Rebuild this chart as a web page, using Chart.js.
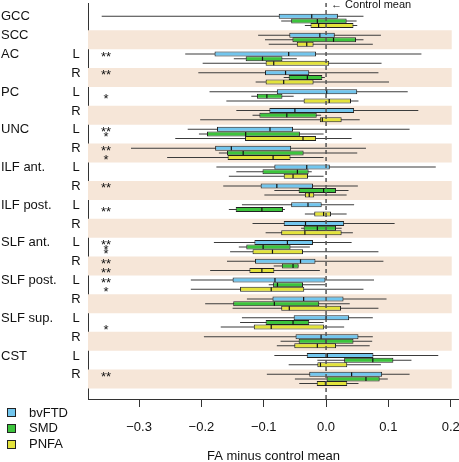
<!DOCTYPE html>
<html>
<head>
<meta charset="utf-8">
<script src="https://cdn.jsdelivr.net/npm/chart.js@4.4.1/dist/chart.umd.min.js"></script>
<style>
  html, body { margin: 0; padding: 0; background: #fff; }
</style>
</head>
<body>
<canvas id="chart" width="459" height="462"></canvas>
<script>
// Row labels (tract + hemisphere)
const regionLabels = ['GCC', 'SCC', 'AC', '', 'PC', '', 'UNC', '', 'ILF ant.', '', 'ILF post.', '',
                      'SLF ant.', '', 'SLF post.', '', 'SLF sup.', '', 'CST', ''];
const sideLabels = ['', '', 'L', 'R', 'L', 'R', 'L', 'R', 'L', 'R', 'L', 'R',
                    'L', 'R', 'L', 'R', 'L', 'R', 'L', 'R'];

const groups = ['bvFTD', 'SMD', 'PNFA'];
const groupColors = ['#72c6ee', '#3cc43c', '#e3e33b'];

const xTicks = [-0.3, -0.2, -0.1, 0.0, 0.1, 0.2];

// bvFTD box stats: whisker low, Q1, median, Q3, whisker high
const bvftdLow  = [-0.360, -0.109, -0.226, -0.205, -0.187, -0.144, -0.222, -0.313, -0.176, -0.165, -0.135, -0.118, -0.180, -0.159, -0.217, -0.127, -0.135, -0.196, -0.083, -0.095];
const bvftdQ1   = [-0.076, -0.059, -0.179, -0.098, -0.079, -0.091, -0.175, -0.178, -0.083, -0.105, -0.056, -0.068, -0.115, -0.114, -0.150, -0.086, -0.052, -0.049, -0.031, -0.027];
const bvftdMed  = [-0.023, -0.010, -0.060, -0.065, 0.001, -0.050, -0.090, -0.152, -0.031, -0.079, -0.029, -0.033, -0.062, -0.041, -0.082, -0.036, 0.000, -0.008, 0.002, 0.041];
const bvftdQ3   = [0.019, 0.014, -0.016, -0.027, 0.050, 0.045, -0.053, -0.056, 0.006, -0.021, -0.007, 0.029, -0.021, -0.017, -0.001, 0.028, 0.037, 0.052, 0.076, 0.090];
const bvftdHigh = [0.060, 0.088, 0.153, 0.084, 0.131, 0.148, 0.134, 0.064, 0.176, 0.051, 0.045, 0.110, 0.041, 0.092, 0.077, 0.097, 0.075, 0.075, 0.180, 0.134];

// SMD
const smdLow  = [-0.072, -0.098, -0.148, -0.068, -0.120, -0.118, -0.204, -0.172, -0.144, -0.083, -0.156, -0.040, -0.140, -0.084, -0.092, -0.194, -0.138, -0.073, -0.014, -0.050];
const smdQ1   = [-0.056, -0.054, -0.129, -0.060, -0.111, -0.107, -0.191, -0.159, -0.102, -0.044, -0.145, -0.036, -0.128, -0.071, -0.085, -0.149, -0.097, -0.044, 0.029, 0.000];
const smdMed  = [-0.014, 0.012, -0.102, -0.030, -0.095, -0.063, -0.129, -0.133, -0.046, -0.004, -0.103, -0.014, -0.101, -0.053, -0.078, -0.083, -0.053, 0.000, 0.075, 0.064];
const smdQ3   = [0.033, 0.048, -0.070, -0.006, -0.070, -0.015, -0.042, -0.036, -0.028, 0.016, -0.069, 0.016, -0.057, -0.044, -0.037, -0.011, -0.027, 0.044, 0.108, 0.086];
const smdHigh = [0.049, 0.060, -0.047, -0.002, -0.052, -0.008, -0.004, 0.050, -0.023, 0.036, -0.066, 0.025, -0.026, -0.044, -0.001, 0.038, -0.004, 0.074, 0.137, 0.099];

// PNFA
const pnfaLow  = [-0.034, -0.092, -0.198, -0.113, -0.160, -0.202, -0.242, -0.255, -0.156, -0.099, -0.034, -0.097, -0.154, -0.186, -0.217, -0.150, -0.169, -0.079, -0.060, -0.043];
const pnfaQ1   = [-0.025, -0.047, -0.097, -0.097, -0.036, -0.010, -0.130, -0.158, -0.068, -0.034, -0.019, -0.072, -0.118, -0.123, -0.138, -0.072, -0.116, -0.051, -0.014, -0.015];
const pnfaMed  = [-0.012, -0.031, -0.084, -0.068, 0.005, -0.006, -0.037, -0.085, -0.053, -0.027, -0.004, -0.034, -0.086, -0.103, -0.088, -0.059, -0.088, -0.014, -0.009, -0.001];
const pnfaQ3   = [0.044, -0.020, 0.005, -0.020, 0.040, 0.025, -0.016, -0.057, -0.029, -0.019, 0.008, 0.025, -0.037, -0.083, -0.035, 0.024, -0.003, 0.016, 0.034, 0.034];
const pnfaHigh = [0.050, 0.075, 0.089, 0.101, 0.052, 0.054, 0.041, -0.004, -0.004, 0.033, 0.033, 0.043, 0.084, -0.010, 0.060, 0.084, 0.029, 0.070, 0.088, 0.052];

// significance marks per row
const bvftdStars = ['', '', '**', '**', '', '', '**', '**', '', '**', '', '', '**', '**', '**', '', '', '', '', '**'];
const smdStars   = ['', '', '', '', '*', '', '*', '', '', '', '**', '', '*', '', '', '', '', '', '', ''];
const pnfaStars  = ['', '', '', '', '', '', '', '*', '', '', '', '', '*', '**', '*', '', '*', '', '', ''];

// axis ranges and layout constants
const xMin = -0.382, xMax = 0.2133, stripeEnd = 0.2016, starX = -0.353;
const yMin = -0.955, yMax = 20.06;
const groupOffsets = [-0.25, 0, 0.24];
const fontFamily = '"Liberation Sans", Arial, Helvetica, sans-serif';

const rows = regionLabels.map((_, i) => i);
const series = [
    { low: bvftdLow, q1: bvftdQ1, med: bvftdMed, q3: bvftdQ3, high: bvftdHigh, stars: bvftdStars },
    { low: smdLow, q1: smdQ1, med: smdMed, q3: smdQ3, high: smdHigh, stars: smdStars },
    { low: pnfaLow, q1: pnfaQ1, med: pnfaMed, q3: pnfaQ3, high: pnfaHigh, stars: pnfaStars }
];

const datasets = [];

// alternating background bands
datasets.push({
    type: 'bar', indexAxis: 'y', grouped: false, order: 10,
    data: rows.filter(i => i % 2 === 1).map(i => ({ x: [xMin, stripeEnd], y: i })),
    backgroundColor: '#f6e6d8', borderWidth: 0, barThickness: 19, inflateAmount: 0
});

series.forEach((s, g) => {
    const pos = rows.map(i => i + groupOffsets[g]);
    // whiskers
    datasets.push({
        type: 'bar', indexAxis: 'y', grouped: false, order: 4,
        data: rows.map(i => ({ x: [s.low[i], s.high[i]], y: pos[i] })),
        backgroundColor: '#3c3c3c', borderWidth: 0, barThickness: 1, inflateAmount: 0
    });
    // boxes
    datasets.push({
        type: 'bar', indexAxis: 'y', grouped: false, order: 3,
        data: rows.map(i => ({ x: [s.q1[i], s.q3[i]], y: pos[i] })),
        backgroundColor: groupColors[g], borderColor: '#222', borderWidth: 1,
        borderSkipped: false, barThickness: 5, inflateAmount: 0
    });
    // medians
    datasets.push({
        type: 'scatter', indexAxis: 'x', order: 2,
        data: rows.map(i => ({ x: s.med[i], y: pos[i] })),
        pointStyle: 'line', pointRotation: 90, pointRadius: 2, pointHoverRadius: 2,
        pointBorderColor: '#111', pointBorderWidth: 1.2, pointBackgroundColor: '#111'
    });
});

// control mean (zero) line
datasets.push({
    type: 'line', indexAxis: 'x', order: 1,
    data: [{ x: 0, y: yMin }, { x: 0, y: yMax }],
    borderColor: '#555', borderWidth: 1.5, borderDash: [4, 3], pointRadius: 0, fill: false
});

// labels, stars, legend
const annotations = {
    id: 'annotations',
    afterDraw(chart) {
        const { ctx, chartArea } = chart;
        const x = chart.scales.x, y = chart.scales.y;
        ctx.save();
        ctx.fillStyle = '#111';
        ctx.font = '13px ' + fontFamily;
        ctx.textBaseline = 'middle';

        rows.forEach(i => {
            const py = y.getPixelForValue(i + groupOffsets[0]) + 0.5;
            ctx.textAlign = 'left';
            if (regionLabels[i]) ctx.fillText(regionLabels[i], 1, py);
            ctx.textAlign = 'center';
            if (sideLabels[i]) ctx.fillText(sideLabels[i], 76, py);
        });

        ctx.textAlign = 'center';
        series.forEach((s, g) => {
            s.stars.forEach((txt, i) => {
                if (!txt) return;
                ctx.fillText(txt, x.getPixelForValue(starX), y.getPixelForValue(i + groupOffsets[g]) + 3);
            });
        });

        ctx.font = '11px ' + fontFamily;
        ctx.textAlign = 'left';
        ctx.fillText('\u2190 Control mean', x.getPixelForValue(0) + 5, chartArea.top + 2);

        // legend
        ctx.font = '13px ' + fontFamily;
        groups.forEach((name, g) => {
            const ly = 412.7 + g * 15.7;
            ctx.fillStyle = groupColors[g];
            ctx.fillRect(7, Math.round(ly - 4.5), 9, 9);
            ctx.strokeStyle = '#222';
            ctx.lineWidth = 1;
            ctx.strokeRect(7.5, Math.round(ly - 4.5) + 0.5, 8, 8);
            ctx.fillStyle = '#111';
            ctx.fillText(name, 29, ly + 0.5);
        });
        ctx.restore();
    }
};

new Chart(document.getElementById('chart'), {
    type: 'bar',
    data: { datasets },
    options: {
        responsive: false,
        animation: false,
        indexAxis: 'y',
        layout: { autoPadding: false, padding: { top: 3, left: 0, right: 0, bottom: 0 } },
        plugins: { legend: { display: false }, tooltip: { enabled: false } },
        scales: {
            x: {
                type: 'linear', position: 'bottom', min: xMin, max: xMax, offset: false,
                afterBuildTicks: scale => { scale.ticks = xTicks.map(v => ({ value: v })); },
                afterFit: scale => {
                    scale.height = 63;
                    scale.paddingLeft = 0;
                    scale.paddingRight = 0;
                },
                ticks: {
                    color: '#111', font: { family: fontFamily, size: 13 }, padding: 13,
                    autoSkip: false, maxRotation: 0,
                    callback: v => Number(v).toFixed(1).replace('-', '\u2212')
                },
                grid: { display: true, drawOnChartArea: false, drawTicks: true, tickLength: 8, color: '#333', offset: false },
                border: { display: true, color: '#333', width: 1 },
                title: {
                    display: true, text: 'FA minus control mean', color: '#111',
                    font: { family: fontFamily, size: 13 }, padding: { top: 0, bottom: -2 }
                }
            },
            y: {
                type: 'linear', position: 'left', min: yMin, max: yMax, reverse: true, offset: false,
                afterFit: scale => {
                    scale.width = 88;
                    scale.paddingTop = 0;
                    scale.paddingBottom = 0;
                },
                ticks: { display: false },
                grid: { display: false, offset: false },
                border: { display: true, color: '#333', width: 1 }
            }
        }
    },
    plugins: [annotations]
});
</script>
</body>
</html>
